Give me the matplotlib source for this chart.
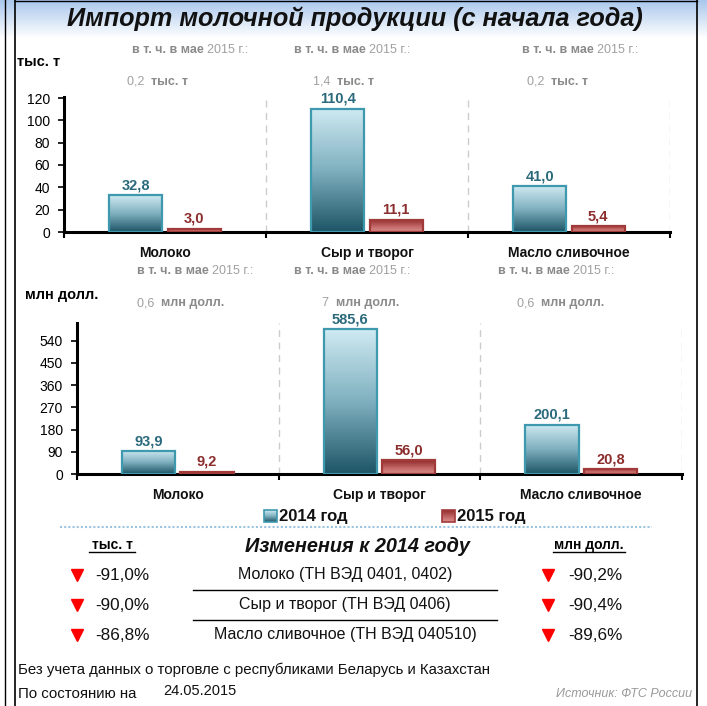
import matplotlib
matplotlib.use('Agg')
import matplotlib.pyplot as plt
import numpy as np
from matplotlib.colors import LinearSegmentedColormap
import warnings
warnings.filterwarnings('ignore')

# ---------------- data ----------------
categories = ['Молоко', 'Сыр и творог', 'Масло сливочное']
vol_2014 = [32.8, 110.4, 41.0]
vol_2015 = [3.0, 11.1, 5.4]
val_2014 = [93.9, 585.6, 200.1]
val_2015 = [9.2, 56.0, 20.8]
may_vol = ['0,2', '1,4', '0,2']
may_val = ['0,6', '7', '0,6']
vol_ticks = [0, 20, 40, 60, 80, 100, 120]
val_ticks = [0, 90, 180, 270, 360, 450, 540]
series_names = ['2014 год', '2015 год']
table_names = ['Молоко (ТН ВЭД 0401, 0402)', 'Сыр и творог (ТН ВЭД 0406)',
               'Масло сливочное (ТН ВЭД 040510)']
chg_vol = ['-91,0%', '-90,0%', '-86,8%']
chg_val = ['-90,2%', '-90,4%', '-89,6%']

# ---------------- style ----------------
W, H = 707, 706
NARROW = ['Liberation Sans Narrow', 'Liberation Sans', 'DejaVu Sans']
SANS = ['Liberation Sans', 'DejaVu Sans']
C14_EDGE = '#3e98ae'
C15_EDGE = '#a33a3a'
C14_TXT = '#2b6a7c'
C15_TXT = '#8b2d2d'
GREY = '#8a8a8a'
cmap14 = LinearSegmentedColormap.from_list('c14', [(0, '#cfeaf2'), (0.5, '#7fb0bf'), (1, '#1d5566')])
cmap15 = LinearSegmentedColormap.from_list('c15', [(0, '#8f2a2a'), (0.6, '#c66a6a'), (1, '#d98f8f')])
cmap_title = LinearSegmentedColormap.from_list('ct', [(0, '#a9c7ec'), (1, '#ffffff')])

fig = plt.figure(figsize=(W / 100, H / 100), dpi=100)
fig.patch.set_facecolor('white')

ov = fig.add_axes([0, 0, 1, 1], zorder=0)
ov.set_xlim(0, W)
ov.set_ylim(H, 0)
ov.axis('off')

# title band gradient
grad = np.linspace(0, 1, 256).reshape(-1, 1)
ov.imshow(grad, extent=[0, W, 38, 0], aspect='auto', cmap=cmap_title, origin='upper', zorder=0)
ov.set_xlim(0, W)
ov.set_ylim(H, 0)
# frame lines
ov.plot([5, 5], [0, H], color='black', lw=1.0)
ov.plot([15, 15], [0, H], color='black', lw=1.2)
ov.plot([697, 697], [0, H], color='black', lw=1.2)
ov.plot([15, 697], [1, 1], color='black', lw=1.0)

ov.text(355, 19, 'Импорт молочной продукции (с начала года)', family=NARROW,
        fontsize=18.2, fontweight='bold', style='italic', ha='center', va='center', color='#111111')

fig.canvas.draw()
renderer = fig.canvas.get_renderer()


def mixed(x, y, parts, size=9):
    """parts: list of (text, weight, color)"""
    cx = x
    for s, wgt, col in parts:
        t = ov.text(cx, y, s, family=NARROW, fontsize=size, fontweight=wgt, color=col,
                    ha='left', va='center')
        bb = t.get_window_extent(renderer=renderer)
        cx += bb.width * W / fig.bbox.width


def px_axes(l, r, top, bottom):
    return fig.add_axes([l / W, 1 - bottom / H, (r - l) / W, (bottom - top) / H],
                        facecolor='none', zorder=2)


def grad_bars(ax, xs, vals, width, cmap, edge):
    bars = ax.bar(xs, vals, width, facecolor='none', edgecolor=edge, linewidth=1.6, zorder=3)
    for b in bars:
        x0, w, h = b.get_x(), b.get_width(), b.get_height()
        im = ax.imshow(grad, extent=[x0, x0 + w, 0, h], aspect='auto', cmap=cmap,
                       origin='upper', zorder=2)
        im.set_clip_path(b)
    return bars


def chart(ax, v14, v15, ticks, ytop):
    n = len(categories)
    x = np.arange(n)
    off, bw = 0.145, 0.265
    b1 = grad_bars(ax, x - off, v14, bw, cmap14, C14_EDGE)
    b2 = grad_bars(ax, x + off, v15, bw, cmap15, C15_EDGE)
    for bars, col in ((b1, C14_TXT), (b2, C15_TXT)):
        for b in bars:
            ax.annotate(f'{b.get_height():.1f}'.replace('.', ','),
                        (b.get_x() + b.get_width() / 2, b.get_height()),
                        xytext=(0, 2), textcoords='offset points', ha='center', va='bottom',
                        family=NARROW, fontsize=10.5, fontweight='bold', color=col)
    ax.vlines(x + 0.5, 0, ytop, colors='#cccccc', linestyles=(0, (5, 4)), linewidth=1, zorder=1)
    ax.set_xlim(-0.5, n - 0.5)
    ax.set_ylim(0, ytop)
    ax.set_yticks(ticks)
    ax.set_yticklabels([str(t) for t in ticks], family=SANS, fontsize=10)
    ax.set_xticks(np.arange(n + 1) - 0.5)
    ax.set_xticklabels([])
    ax.tick_params(axis='y', direction='out', length=4, width=1.2, pad=6, colors='black')
    ax.tick_params(axis='x', direction='out', length=4, width=1.5)
    for s in ('top', 'right'):
        ax.spines[s].set_visible(False)
    for s in ('left', 'bottom'):
        ax.spines[s].set_linewidth(2.2)
    for i, c in enumerate(categories):
        ax.annotate(c, (i, 0), xytext=(0, -15), textcoords='offset points', ha='center',
                    va='center', family=NARROW, fontsize=10, fontweight='bold', color='#111111')


# ---- top chart (thousand tonnes) ----
ppu_top = 134 / 120
ytop1 = 121
ax1 = px_axes(64, 670, 232 - ytop1 * ppu_top, 232)
chart(ax1, vol_2014, vol_2015, vol_ticks, ytop1)

# ---- bottom chart (million USD) ----
ppu_bot = 133.3 / 540
ytop2 = 612
ax2 = px_axes(77, 682, 474 - ytop2 * ppu_bot, 474)
chart(ax2, val_2014, val_2015, val_ticks, ytop2)

# unit labels
ov.text(17, 62, 'тыс. т', family=SANS, fontsize=10.5, fontweight='bold', va='center', color='black')
ov.text(25, 295, 'млн долл.', family=SANS, fontsize=10.5, fontweight='bold', va='center', color='black')

# "в т. ч. в мае 2015 г." sub-headers
sub_x_top = [132, 294, 522]
sub_x_top2 = [127, 313, 527]
sub_x_bot = [137, 294, 498]
sub_x_bot2 = [137, 322, 517]
for i in range(len(categories)):
    mixed(sub_x_top[i], 50, [('в т. ч. в мае ', 'bold', GREY), ('2015 г.:', 'normal', '#a0a0a0')])
    mixed(sub_x_top2[i], 82, [(may_vol[i] + '  ', 'normal', '#a0a0a0'), ('тыс. т', 'bold', GREY)])
    mixed(sub_x_bot[i], 271, [('в т. ч. в мае ', 'bold', GREY), ('2015 г.:', 'normal', '#a0a0a0')])
    mixed(sub_x_bot2[i], 303, [(may_val[i] + '  ', 'normal', '#a0a0a0'), ('млн долл.', 'bold', GREY)])

# legend
leg_x = [264, 442]
leg_cmaps = [cmap14, cmap15]
leg_edges = [C14_EDGE, C15_EDGE]
for i, name in enumerate(series_names):
    x0 = leg_x[i]
    ov.imshow(grad, extent=[x0, x0 + 13, 522, 510], aspect='auto', cmap=leg_cmaps[i],
              origin='upper', zorder=1)
    ov.add_patch(plt.Rectangle((x0, 510), 13, 12, fill=False, edgecolor=leg_edges[i], lw=1.2, zorder=2))
    ov.text(x0 + 15, 516, name, family=NARROW, fontsize=12, fontweight='bold', va='center',
            ha='left', color='#111111')
ov.set_xlim(0, W)
ov.set_ylim(H, 0)

# dotted separator
ov.plot([60, 652], [527, 527], color='#9cc3df', lw=1.5, linestyle=(0, (1, 1)))

# table heading
ov.text(112, 545, 'тыс. т', family=SANS, fontsize=10, fontweight='bold', ha='center', va='center')
ov.plot([89, 135], [552, 552], color='black', lw=1)
ov.text(589, 545, 'млн долл.', family=SANS, fontsize=10, fontweight='bold', ha='center', va='center')
ov.plot([553, 625], [552, 552], color='black', lw=1)
ov.text(357, 546, 'Изменения к 2014 году', family=NARROW, fontsize=14.3, fontweight='bold',
        style='italic', ha='center', va='center', color='#111111')

row_y0, row_dy = 575, 30
for i in range(len(table_names)):
    y = row_y0 + i * row_dy
    ov.plot([77], [y], marker='v', color='#ff0000', markersize=9, linestyle='none')
    ov.text(95, y, chg_vol[i], family=NARROW, fontsize=12.3, ha='left', va='center', color='#111111')
    ov.text(345, y, table_names[i], family=NARROW, fontsize=11.5, ha='center', va='center',
            color='#111111')
    ov.plot([548], [y], marker='v', color='#ff0000', markersize=9, linestyle='none')
    ov.text(568, y, chg_val[i], family=NARROW, fontsize=12.3, ha='left', va='center', color='#111111')
    if i < len(table_names) - 1:
        ov.plot([193, 497], [y + 15, y + 15], color='black', lw=1)

# footer
ov.text(18, 670, 'Без учета данных о торговле с республиками Беларусь и Казахстан', family=NARROW,
        fontsize=10.85, ha='left', va='center', color='#111111')
ov.text(18, 694, 'По состоянию на', family=NARROW, fontsize=10.85, ha='left', va='center', color='#111111')
ov.text(163, 691, '24.05.2015', family=NARROW, fontsize=10.5, ha='left', va='center', color='#111111')
ov.text(692, 694, 'Источник: ФТС России', family=NARROW, fontsize=9, style='italic', ha='right',
        va='center', color='#9a9a9a')

fig.savefig('out.png', dpi=100)
